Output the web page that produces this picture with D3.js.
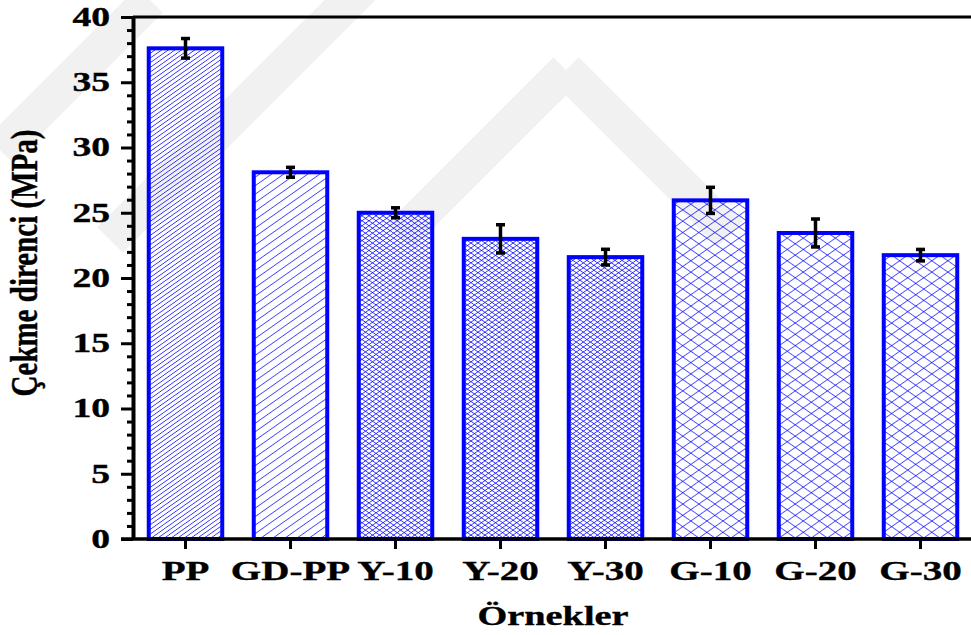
<!DOCTYPE html>
<html>
<head>
<meta charset="utf-8">
<script src="https://cdn.jsdelivr.net/npm/d3@7"></script>
<style>
  body { margin: 0; background: #fff; }
  svg { display: block; }
  text { font-family: "Liberation Serif", "Times New Roman", serif; font-weight: bold; fill: #000; stroke: #000; stroke-width: 0.35px; }
</style>
</head>
<body>
<svg id="chart" width="971" height="635"></svg>
<script>
// Tensile strength of the samples (mean and standard deviation, MPa)
const categories   = ["PP", "GD-PP", "Y-10", "Y-20", "Y-30", "G-10", "G-20", "G-30"];
const strength     = [37.6, 28.1, 25.0, 23.0, 21.6, 25.95, 23.45, 21.75];
const strengthErr  = [0.75, 0.38, 0.38, 1.08, 0.6, 1.0, 1.07, 0.44];
const hatchKinds   = ["diag-fine", "diag-wide", "cross-fine", "cross-fine", "cross-fine", "cross-wide", "cross-wide", "cross-wide"];
const yMajorTicks  = [0, 5, 10, 15, 20, 25, 30, 35, 40];
const yMinorTicks  = d3.range(0, 41).filter(v => v % 5 !== 0);
const yTitle = "Çekme direnci (MPa)";
const xTitle = "Örnekler";

const SX = 1.42;           // horizontal stretch applied to text and hatching
const BLUE = "#0000ff";

const svg = d3.select("#chart");
const plotLeft = 133, plotRight = 973, plotTop = 17, plotBottom = 539;

const x = d3.scaleBand().domain(categories).range([plotLeft, plotRight])
  .paddingInner(0.3).paddingOuter(0.15);
const y = d3.scaleLinear().domain([0, 40]).range([plotBottom, plotTop]);

// ---- hatch patterns ----
const defs = svg.append("defs");
function hatch(id, spacing, cross) {
  const p = defs.append("pattern")
    .attr("id", id)
    .attr("patternUnits", "userSpaceOnUse")
    .attr("width", spacing).attr("height", spacing)
    .attr("patternTransform", `scale(${SX},1) rotate(${cross ? 45 : -45})`);
  p.append("line").attr("x1", 0).attr("y1", 0).attr("x2", spacing).attr("y2", 0)
    .attr("stroke", BLUE).attr("stroke-width", 1.1);
  if (cross) {
    p.append("line").attr("x1", 0).attr("y1", 0).attr("x2", 0).attr("y2", spacing)
      .attr("stroke", BLUE).attr("stroke-width", 1.1);
  }
}
hatch("diag-fine", 3.3, false);
hatch("diag-wide", 6.0, false);
hatch("cross-fine", 3.5, true);
hatch("cross-wide", 8.0, true);

// ---- faint background emblem ----
const emblem = svg.append("g").attr("fill", "none").attr("stroke", "#f1f1f1")
  .attr("stroke-width", 36).attr("stroke-linecap", "butt");
[
  [[380, -30], [110, 240]],
  [[566, 70], [400, 236]],
  [[566, 70], [730, 234]],
  [[0, 150], [150, 0]]
].forEach(seg => emblem.append("path").attr("d", d3.line()(seg)));

// ---- bars ----
const data = categories.map((c, i) => ({ c, v: strength[i], e: strengthErr[i], h: hatchKinds[i] }));

svg.append("g").selectAll("rect").data(data).join("rect")
  .attr("x", d => x(d.c))
  .attr("y", d => y(d.v))
  .attr("width", x.bandwidth())
  .attr("height", d => y(0) - y(d.v))
  .attr("fill", d => `url(#${d.h})`)
  .attr("stroke", BLUE)
  .attr("stroke-width", 4);

// ---- error bars ----
const eb = svg.append("g").attr("stroke", "#000").attr("stroke-width", 3.5);
data.forEach(d => {
  const cx = x(d.c) + x.bandwidth() / 2;
  eb.append("line").attr("x1", cx).attr("x2", cx).attr("y1", y(d.v - d.e)).attr("y2", y(d.v + d.e));
  [d.v - d.e, d.v + d.e].forEach(v => {
    eb.append("line").attr("x1", cx - 4.5).attr("x2", cx + 4.5).attr("y1", y(v)).attr("y2", y(v)).attr("stroke-width", 3.5);
  });
});

// ---- axes ----
function stretchText(sel) {
  sel.attr("transform", function () {
    const tx = +this.getAttribute("x") || 0;
    return `translate(${tx},0) scale(${SX},1) translate(${-tx},0)`;
  });
}

// minor y ticks
svg.append("g").attr("transform", `translate(${plotLeft},0)`)
  .call(d3.axisLeft(y).tickValues(yMinorTicks).tickSize(6).tickFormat(""))
  .call(g => g.select(".domain").remove())
  .call(g => g.selectAll("line").attr("stroke-width", 3));

// major y ticks
const yAxis = svg.append("g").attr("transform", `translate(${plotLeft},0)`)
  .call(d3.axisLeft(y).tickValues(yMajorTicks).tickSize(12).tickSizeOuter(0).tickPadding(11));
yAxis.select(".domain").attr("stroke-width", 4);
yAxis.selectAll("line").attr("stroke-width", 3);
yAxis.selectAll("text").attr("font-size", 26.5).attr("font-family", null).call(stretchText);

// x axis
const xAxis = svg.append("g").attr("transform", `translate(0,${plotBottom})`)
  .call(d3.axisBottom(x).tickSize(10).tickSizeOuter(0).tickPadding(11));
xAxis.select(".domain").attr("stroke-width", 3.5).attr("d", `M${plotLeft - 12},0H${plotRight}`);
xAxis.selectAll("line").attr("stroke-width", 3);
xAxis.selectAll("text").attr("font-size", 27.5).attr("font-family", null).call(stretchText);

// top frame line
svg.append("line").attr("x1", plotLeft).attr("x2", plotRight).attr("y1", plotTop).attr("y2", plotTop)
  .attr("stroke", "#000").attr("stroke-width", 3);

// ---- titles ----
svg.append("text")
  .attr("transform", `translate(${(plotLeft + plotRight) / 2},625) scale(${SX},1)`)
  .attr("text-anchor", "middle").attr("font-size", 27)
  .text(xTitle);

svg.append("text")
  .attr("transform", `translate(37,263) scale(1.3,1) rotate(-90)`)
  .attr("text-anchor", "middle").attr("font-size", 29)
  .text(yTitle);
</script>
</body>
</html>
